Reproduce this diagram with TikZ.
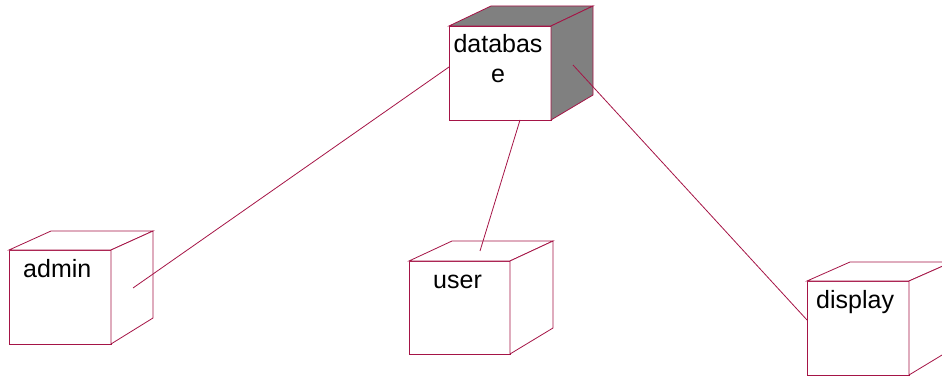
\documentclass[tikz,border=0pt]{standalone}
\usepackage{fontspec}
\setmainfont{Liberation Sans}
\usetikzlibrary{calc}
\definecolor{umlred}{RGB}{165,20,70}
\definecolor{dbgray}{RGB}{128,128,128}
\tikzset{
  edge/.style={draw=umlred, line width=0.8pt, line join=miter},
  cubefront/.style={edge, fill=white, anchor=north west, inner sep=0pt, outer sep=0pt},
  lbl/.style={font=\fontsize{25}{30}\selectfont, inner sep=0pt, text=black},
}
\newcommand\cubesides[5]{%
  \draw[edge, fill=#5] (#1.north west) -- ($(#1.north west)+(#2,#3)$) -- ($(#1.north east)+(#2,#3)$) -- (#1.north east) -- cycle;
  \draw[edge, fill=#5] (#1.north east) -- ($(#1.north east)+(#2,#3)$) -- ($(#1.south east)+(#2,#4)$) -- (#1.south east) -- cycle;
}
\begin{document}
\begin{tikzpicture}[x=1pt,y=-1pt]
\useasboundingbox (0,0) rectangle (942,377);
\clip (0,0) rectangle (942,377);
% cubes
\node[cubefront, minimum width=102pt, minimum height=94pt] (db) at (449,26) {};
\cubesides{db}{42}{-20}{-25}{dbgray}
\node[cubefront, minimum width=102pt, minimum height=94pt] (admin) at (9,250) {};
\cubesides{admin}{42}{-19}{-26}{white}
\node[cubefront, minimum width=101pt, minimum height=93pt] (user) at (409,261) {};
\cubesides{user}{43}{-20}{-26}{white}
\node[cubefront, minimum width=102pt, minimum height=94pt] (display) at (807,281) {};
\cubesides{display}{43}{-19}{-26}{white}
% labels
\node[lbl, anchor=base, align=center] (dbtxt) at (498,83) {databas\\e};
\node[lbl, anchor=base west] (admintxt) at (23,277) {admin};
\node[lbl, anchor=base west] (usertxt) at (433,288) {user};
\node[lbl, anchor=base west] (displaytxt) at (816,308) {display};
% connector ends
\coordinate (dbW) at (449,67);
\coordinate (dbS) at (520,120);
\coordinate (dbE) at (573,65);
\coordinate (adminEnd) at (133,288);
\coordinate (userEnd) at (480,251);
\coordinate (displayW) at (807,320);
\draw[edge] (dbW) -- (adminEnd);
\draw[edge] (dbS) -- (userEnd);
\draw[edge] (dbE) -- (displayW);
\end{tikzpicture}
\end{document}
